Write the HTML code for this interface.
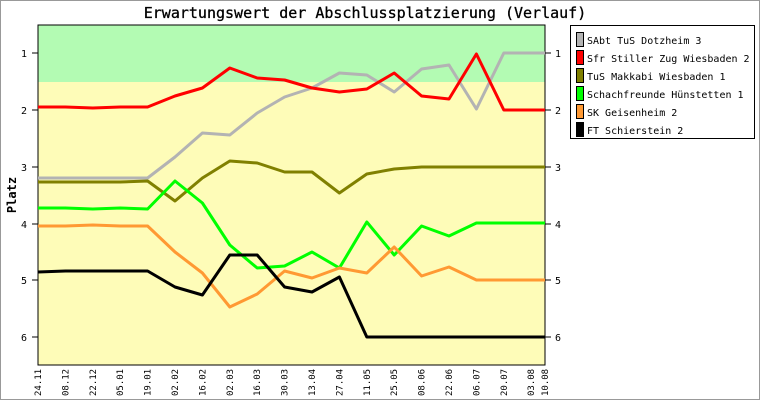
<!DOCTYPE html>
<html><head><meta charset="utf-8"><style>body{margin:0;background:#fff}svg{display:block}text{font-family:"DejaVu Sans Mono","Liberation Mono",monospace}</style></head><body>
<svg width="760" height="400" viewBox="0 0 760 400" xmlns="http://www.w3.org/2000/svg">
<rect x="0.5" y="0.5" width="759" height="399" fill="#fff" stroke="#999"/>
<text x="365" y="18" font-size="15" text-anchor="middle" font-family="Liberation Mono,monospace" stroke="#000" stroke-width="0.3">Erwartungswert der Abschlussplatzierung (Verlauf)</text>
<rect x="38" y="25" width="507" height="57" fill="#b3fbb3"/>
<rect x="38" y="82" width="507" height="283" fill="#fefcb8"/>
<rect x="38" y="25" width="507" height="340" fill="none" stroke="#000" stroke-width="1"/>
<g stroke="#000" stroke-width="1">
<line x1="32" y1="53" x2="38" y2="53"/><line x1="545" y1="53" x2="551" y2="53"/>
<line x1="32" y1="110" x2="38" y2="110"/><line x1="545" y1="110" x2="551" y2="110"/>
<line x1="32" y1="167" x2="38" y2="167"/><line x1="545" y1="167" x2="551" y2="167"/>
<line x1="32" y1="224" x2="38" y2="224"/><line x1="545" y1="224" x2="551" y2="224"/>
<line x1="32" y1="280" x2="38" y2="280"/><line x1="545" y1="280" x2="551" y2="280"/>
<line x1="32" y1="337" x2="38" y2="337"/><line x1="545" y1="337" x2="551" y2="337"/>
</g>
<g font-size="10">
<text x="27" y="57" text-anchor="end">1</text><text x="555" y="57">1</text>
<text x="27" y="114" text-anchor="end">2</text><text x="555" y="114">2</text>
<text x="27" y="171" text-anchor="end">3</text><text x="555" y="171">3</text>
<text x="27" y="228" text-anchor="end">4</text><text x="555" y="228">4</text>
<text x="27" y="284" text-anchor="end">5</text><text x="555" y="284">5</text>
<text x="27" y="341" text-anchor="end">6</text><text x="555" y="341">6</text>
</g>
<text transform="translate(16,195) rotate(-90)" font-size="12" font-weight="bold" text-anchor="middle">Platz</text>
<g font-size="9" id="xl"></g>
<g fill="none" stroke-width="3" stroke-linejoin="round" id="ser"></g>
<rect x="570.5" y="25.5" width="184" height="113" fill="#fff" stroke="#000"/>
<g font-size="10" id="leg"></g>
<script>
var xs=[];for(var k=0;k<19;k++)xs.push(38+27.4*k);xs.push(545);
var lab=["24.11","08.12","22.12","05.01","19.01","02.02","16.02","02.03","16.03","30.03","13.04","27.04","11.05","25.05","08.06","22.06","06.07","20.07","03.08","10.08"];
var ns="http://www.w3.org/2000/svg",xl=document.getElementById("xl");
lab.forEach(function(l,i){var t=document.createElementNS(ns,"text");t.setAttribute("transform","translate("+(xs[i]+3)+",396) rotate(-90)");t.textContent=l;xl.appendChild(t);});
var S=[["#b3b3b3",[178,178,178,178,178,157,133,135,113,97,88,73,75,92,69,65,109,53,53,53],"SAbt TuS Dotzheim 3"],
["#ff0000",[107,107,108,107,107,96,88,68,78,80,88,92,89,73,96,99,54,110,110,110],"Sfr Stiller Zug Wiesbaden 2"],
["#808000",[182,182,182,182,181,201,178,161,163,172,172,193,174,169,167,167,167,167,167,167],"TuS Makkabi Wiesbaden 1"],
["#00ff00",[208,208,209,208,209,181,203,245,268,266,252,268,222,255,226,236,223,223,223,223],"Schachfreunde Hünstetten 1"],
["#ff9933",[226,226,225,226,226,252,273,307,294,271,278,268,273,247,276,267,280,280,280,280],"SK Geisenheim 2"],
["#000000",[272,271,271,271,271,287,295,255,255,287,292,277,337,337,337,337,337,337,337,337],"FT Schierstein 2"]];
var sg=document.getElementById("ser"),lg=document.getElementById("leg");
S.forEach(function(s,i){var p=document.createElementNS(ns,"polyline");p.setAttribute("points",s[1].map(function(y,j){return xs[j]+","+y}).join(" "));p.setAttribute("stroke",s[0]);sg.appendChild(p);
var r=document.createElementNS(ns,"rect");r.setAttribute("x",576.5);r.setAttribute("y",32.5+i*18);r.setAttribute("width",7);r.setAttribute("height",14);r.setAttribute("fill",s[0]);r.setAttribute("stroke","#000");lg.appendChild(r);
var t=document.createElementNS(ns,"text");t.setAttribute("x",587);t.setAttribute("y",44+i*18);t.textContent=s[2];lg.appendChild(t);});
</script>
</svg>
</body></html>
